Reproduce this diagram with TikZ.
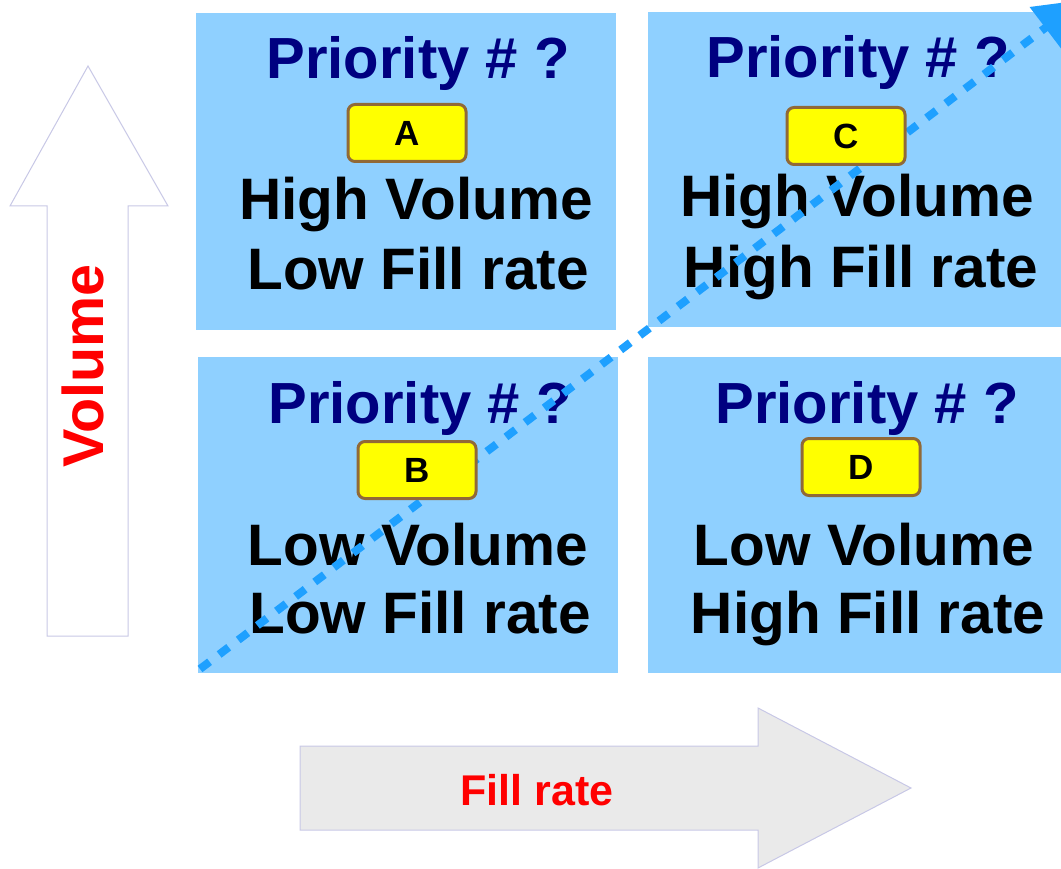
\documentclass[tikz,border=0pt]{standalone}
\usepackage{fontspec}
\setmainfont{Liberation Sans}
\usetikzlibrary{arrows.meta}
\definecolor{boxblue}{RGB}{143,208,255}
\definecolor{navytxt}{RGB}{0,0,128}
\definecolor{dotblue}{RGB}{30,160,255}
\definecolor{labbrown}{RGB}{145,105,55}
\definecolor{labyellow}{RGB}{255,255,0}
\definecolor{arrowedge}{RGB}{200,200,230}
\definecolor{arrowgrey}{RGB}{234,234,234}
\definecolor{redtxt}{RGB}{255,0,0}
\tikzset{
  quad/.style={fill=boxblue, draw=none},
  prio/.style={anchor=base, text=navytxt, font=\fontsize{58}{58}\selectfont\bfseries, inner sep=0pt},
  bigtxt/.style={anchor=base, text=black, font=\fontsize{58.5}{58.5}\selectfont\bfseries, inner sep=0pt},
  labbox/.style={fill=labyellow, draw=labbrown, line width=3pt, rounded corners=7pt, minimum width=118pt, minimum height=57pt, inner sep=0pt, font=\fontsize{35}{35}\selectfont\bfseries},
  axisarrow/.style={draw=arrowedge, line width=1pt},
  axislabel/.style={text=redtxt, font=\bfseries, inner sep=0pt},
  dotline/.style={draw=dotblue, line width=8pt, dash pattern=on 12pt off 12pt, -{Triangle[length=46pt,width=50pt]}}
}
\begin{document}
\begin{tikzpicture}[x=1pt,y=-1pt]
\useasboundingbox (0,0) rectangle (1061,869);
\clip (0,0) rectangle (1061,869);
% quadrants
\fill[quad] (196,13) rectangle (616,330);
\fill[quad] (648,12) rectangle (1061,327);
\fill[quad] (198,357) rectangle (618,673);
\fill[quad] (648,357) rectangle (1061,673);
% texts
\node[prio] (pA) at (418,79) {Priority \# ?};
\node[bigtxt] (hA) at (416,220) {High Volume};
\node[bigtxt] (lA) at (418,290) {Low Fill rate};
\node[prio] (pC) at (858,78) {Priority \# ?};
\node[bigtxt] (hC) at (857,217) {High Volume};
\node[bigtxt] (lC) at (861,288) {High Fill rate};
\node[prio] (pB) at (420,423) {Priority \# ?};
\node[bigtxt] (hB) at (418,565) {Low Volume};
\node[bigtxt] (lB) at (420,633) {Low Fill rate};
\node[prio] (pD) at (867,423) {Priority \# ?};
\node[bigtxt] (hD) at (864,565) {Low Volume};
\node[bigtxt] (lD) at (868,633) {High Fill rate};
% diagonal dotted arrow
\coordinate (ds) at (200,669);
\coordinate (de) at (1082,0);
\draw[dotline] (ds) -- (de);
% labels
\node[labbox] (A) at (407,133) {A};
\node[labbox] (B) at (417,470) {B};
\node[labbox] (C) at (846,136) {C};
\node[labbox] (D) at (861,467) {D};
% axis arrows
\draw[axisarrow, fill=white] (88,66) -- (168,206) -- (128,206) -- (128,636) -- (47,636) -- (47,206) -- (10,206) -- cycle;
\node[axislabel, rotate=90, font=\fontsize{57.5}{57.5}\selectfont\bfseries] (vol) at (83,366) {Volume};
\draw[axisarrow, fill=arrowgrey] (300,746) -- (758,746) -- (758,708) -- (911,788) -- (758,868) -- (758,830) -- (300,830) -- cycle;
\node[axislabel, anchor=base, font=\fontsize{43}{43}\selectfont\bfseries] (fr) at (537,805) {Fill rate};
\end{tikzpicture}
\end{document}
